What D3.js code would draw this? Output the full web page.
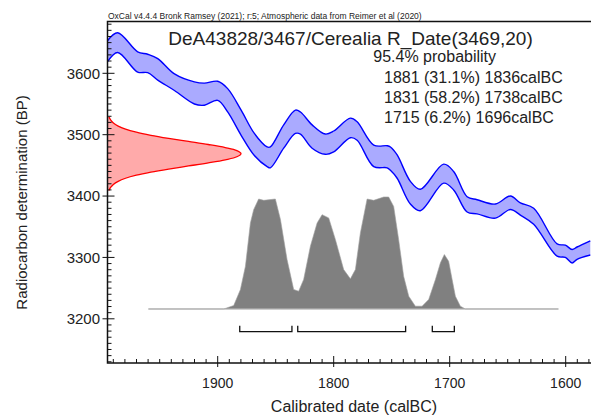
<!DOCTYPE html>
<html><head><meta charset="utf-8">
<script src="https://cdn.jsdelivr.net/npm/d3@7"></script>
<style>html,body{margin:0;padding:0;background:#fff;overflow:hidden}text{font-family:"Liberation Sans",Arial,Helvetica,sans-serif;fill:#222}</style>
</head><body><svg id="c" width="591" height="415"></svg>
<script>
// ---- data ----
const headerText = "OxCal v4.4.4 Bronk Ramsey (2021); r:5; Atmospheric data from Reimer et al (2020)";
const titleText = "DeA43828/3467/Cerealia R_Date(3469,20)";
const probHeader = "95.4% probability";
const rangeLabels = ["1881 (31.1%) 1836calBC", "1831 (58.2%) 1738calBC", "1715 (6.2%) 1696calBC"];
const rangeFrom = [1881, 1831, 1715];
const rangeTo = [1836, 1738, 1696];
const xTicks = [1900, 1800, 1700, 1600];
const yTicks = [3200, 3300, 3400, 3500, 3600];

// calibration curve (IntCal20) band
const curveYears = [1995,1986.2,1969,1960.3,1951.7,1937.3,1920.1,1911.5,1900,1891.4,1879.8,1868.4,1857.4,1854.6,1843.1,1833,1828.7,1818.6,1807.2,1800,1785.6,1779.8,1765.5,1753.9,1751.1,1745.3,1733.9,1725.3,1705.2,1696.6,1685,1676.4,1660.6,1647.7,1639.1,1627.6,1607.4,1600.3,1594.5,1590.2,1578.8];
const curveUpper = [3653,3666,3635,3631,3624,3599,3586,3584,3587,3575,3540,3502,3480,3480,3516,3540,3537,3516,3501,3506,3527,3521,3483,3482,3480,3467,3424,3411,3452,3440,3399,3394,3387,3400,3389,3380,3322,3320,3313,3317,3327];
const curveLower = [3619,3634,3602,3601,3589,3572,3550,3548,3556,3537,3499,3466,3448,3446,3478,3502,3501,3478,3468,3472,3495,3491,3448,3446,3442,3429,3387,3376,3421,3410,3374,3371,3364,3378,3369,3354,3302,3300,3291,3297,3304];

// radiocarbon measurement distribution (BP, relative density)
const measBP = [3409,3414,3419,3424,3429,3434,3439,3444,3449,3454,3459,3464,3469,3474,3479,3484,3489,3494,3499,3504,3509,3514,3519,3524,3529];
const measDensity = [0.011,0.023,0.044,0.080,0.135,0.216,0.325,0.458,0.607,0.755,0.882,0.969,1,0.969,0.882,0.755,0.607,0.458,0.325,0.216,0.135,0.080,0.044,0.023,0.011];

// calibrated date distribution (calBC, relative probability)
const calDates = [1959.7,1894.8,1886.2,1880.4,1876.1,1871.8,1869.0,1864.7,1860.3,1850.3,1845.9,1840.2,1834.5,1830.2,1825.9,1820.1,1814.3,1810.0,1804.3,1798.5,1791.4,1785.6,1781.3,1777.0,1771.2,1765.5,1756.9,1752.6,1748.3,1744.0,1739.7,1735.3,1729.6,1723.8,1718.1,1712.3,1708.0,1704.6,1700.9,1697.9,1695.1,1690.8,1686.5,1606.3];
const calProb = [0,0,0.031,0.174,0.381,0.768,0.887,0.982,0.970,0.982,0.798,0.441,0.174,0.159,0.263,0.560,0.768,0.842,0.813,0.619,0.352,0.269,0.352,0.679,0.982,0.970,1,1,0.916,0.619,0.292,0.114,0.025,0.025,0.085,0.263,0.412,0.486,0.426,0.263,0.114,0.025,0,0];

// ---- layout ----
const svg = d3.select("#c");
const L = 107.5, T = 21.5, B = 363, R = 595;
const x = d3.scaleLinear().domain([1995, 1995 - (R - L) / 1.16]).range([L, R]);
const y = d3.scaleLinear().domain([3128, 3684.4]).range([B, T]);
const calBase = y(3216);
const hCal = d3.scaleLinear().domain([0, 1]).range([calBase, calBase - 112]);
const wMeas = d3.scaleLinear().domain([0, 1]).range([L, 241]);

svg.append("rect").attr("width", 591).attr("height", 415).attr("fill", "#fff");

// calibration band
const band = curveYears.map((d, i) => ({yr: d, up: curveUpper[i], lo: curveLower[i]}));
svg.append("path").datum(band)
  .attr("d", d3.area().x(d => x(d.yr)).y0(d => y(d.lo)).y1(d => y(d.up)).curve(d3.curveCatmullRom.alpha(0.5)))
  .attr("fill", "#aaaaff").attr("stroke", "none");
["up", "lo"].forEach(k => {
  svg.append("path").datum(band)
    .attr("d", d3.line().x(d => x(d.yr)).y(d => y(d[k])).curve(d3.curveCatmullRom.alpha(0.5)))
    .attr("fill", "none").attr("stroke", "#0000ff").attr("stroke-width", 1.4);
});

// measurement distribution (red)
const meas = measBP.map((b, i) => ({bp: b, d: measDensity[i]}));
const measLine = d3.line().x(d => wMeas(d.d)).y(d => y(d.bp)).curve(d3.curveCatmullRom.alpha(0.5));
svg.append("path").datum(meas)
  .attr("d", d3.area().y(d => y(d.bp)).x0(L).x1(d => wMeas(d.d)).curve(d3.curveCatmullRom.alpha(0.5)))
  .attr("fill", "#ffaaaa");
svg.append("path").datum(meas).attr("d", measLine)
  .attr("fill", "none").attr("stroke", "#ff0000").attr("stroke-width", 1.3);

// calibrated distribution (grey)
const cal = calDates.map((d, i) => ({yr: d, p: calProb[i]}));
svg.append("path").datum(cal)
  .attr("d", d3.area().x(d => x(d.yr)).y0(calBase).y1(d => hCal(d.p)))
  .attr("fill", "#808080").attr("stroke", "#a0a0a0").attr("stroke-width", 0.6);
svg.append("line").attr("x1", x(calDates[0])).attr("x2", x(calDates[calDates.length - 1]))
  .attr("y1", calBase).attr("y2", calBase).attr("stroke", "#b8b8b8").attr("stroke-width", 1);

// range brackets
const brY = 331.7;
rangeFrom.forEach((f, i) => {
  const x1 = x(f), x2 = x(rangeTo[i]);
  svg.append("path").attr("d", `M${x1},${brY - 6}V${brY}H${x2}V${brY - 6}`)
    .attr("fill", "none").attr("stroke", "#111").attr("stroke-width", 1.3);
});

// axes frame
const ax = svg.append("g").attr("stroke", "#111").attr("fill", "none");
ax.append("path").attr("d", `M${R},${T}H${L}V${B}H${R}`).attr("stroke-width", 1.5);
// y ticks
d3.range(3130, 3690, 10).forEach(v => {
  const major = v % 100 === 0;
  ax.append("line").attr("x1", major ? L - 5 : L).attr("x2", L + (major ? 7 : 4))
    .attr("y1", y(v)).attr("y2", y(v)).attr("stroke-width", 1);
});
// x ticks
d3.range(1990, 1575, -10).forEach(v => {
  const major = v % 100 === 0;
  ax.append("line").attr("x1", x(v)).attr("x2", x(v))
    .attr("y1", major ? B + 4 : B).attr("y2", B - (major ? 7 : 4)).attr("stroke-width", 1);
});

yTicks.forEach(v => {
  svg.append("text").attr("x", 100).attr("y", y(v)).attr("dy", "0.36em")
    .attr("text-anchor", "end").attr("font-size", 15).text(v);
});
xTicks.forEach(v => {
  svg.append("text").attr("x", x(v)).attr("y", 388)
    .attr("text-anchor", "middle").attr("font-size", 14).text(v);
});

// labels
svg.append("text").attr("x", 354).attr("y", 412).attr("text-anchor", "middle")
  .attr("font-size", 16).text("Calibrated date (calBC)");
svg.append("text").attr("transform", "translate(27,202.5) rotate(-90)")
  .attr("text-anchor", "middle").attr("font-size", 15).text("Radiocarbon determination (BP)");

svg.append("text").attr("x", 108).attr("y", 19).attr("font-size", 8.5).text(headerText);
svg.append("text").attr("x", 168.3).attr("y", 45).attr("font-size", 19).text(titleText);
svg.append("text").attr("x", 373.3).attr("y", 61.7).attr("font-size", 16).text(probHeader);
rangeLabels.forEach((t, i) => {
  svg.append("text").attr("x", 384).attr("y", 83.3 + i * 20).attr("font-size", 16).text(t);
});
</script></body></html>
